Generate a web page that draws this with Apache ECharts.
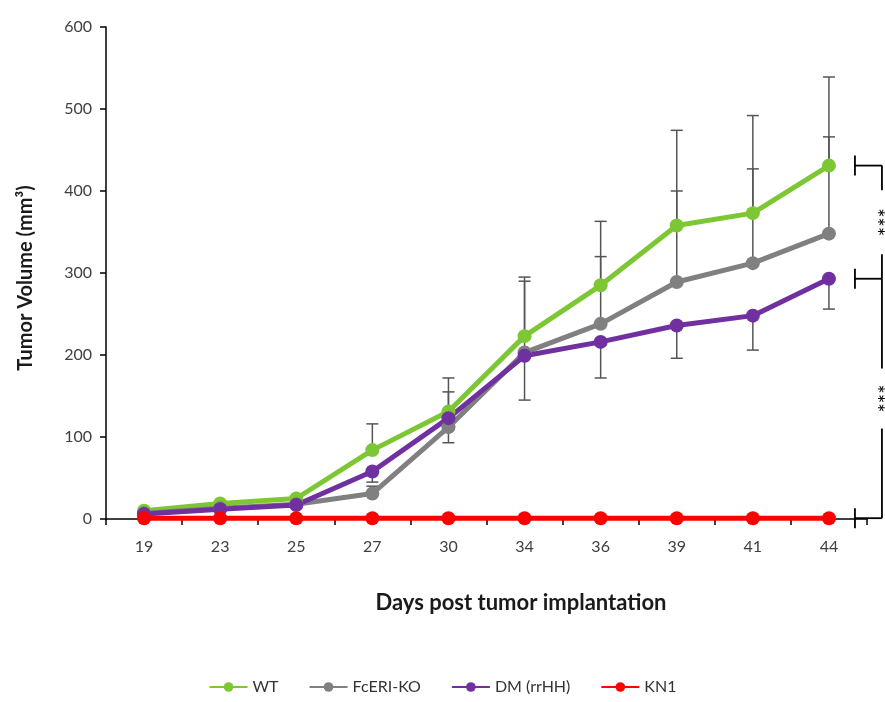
<!DOCTYPE html>
<html><head><meta charset="utf-8">
<script src="https://cdn.jsdelivr.net/npm/echarts@6/dist/echarts.min.js"></script>
<style>html,body{margin:0;padding:0;background:#fff}#c{width:885px;height:702px}</style>
</head><body><div id="c"></div>
<script>
const days = ['19','23','25','27','30','34','36','39','41','44'];
const wt  = [10,19,25,84,131,223,285,358,373,431];
const ko  = [7,13,18,31,112,203,238,289,312,348];
const dm  = [6,12,17,58,123,199,216,236,248,293];
const kn1 = [1,1,1,1,1,1,1,1,1,1];
const wtErrUp   = [0,0,0,32,41,72,78,116,119,108];
const koErrUp   = [0,0,0,9,43,87,82,111,115,118];
const dmErrDown = [0,0,0,13,30,54,44,40,42,37];
const seriesNames = ['WT','FcERI-KO','DM (rrHH)','KN1'];
const colors = ['#7dc734','#808080','#7030a0','#ff0000'];
const FONT = 'Lato';

function errData(vals, errs, dir){
  return vals.map((v,i)=>[i, v, v + dir*errs[i]]).filter((d,i)=>errs[i]>0);
}
function errSeries(data){
  return {
    type:'custom', z:1, silent:true,
    renderItem:function(params, api){
      const p0 = api.coord([api.value(0), api.value(1)]);
      const p1 = api.coord([api.value(0), api.value(2)]);
      const style = {stroke:'#555', lineWidth:1.5, fill:null};
      return {type:'group', children:[
        {type:'line', shape:{x1:p0[0],y1:p0[1],x2:p1[0],y2:p1[1]}, style:style},
        {type:'line', shape:{x1:p1[0]-6,y1:p1[1],x2:p1[0]+6,y2:p1[1]}, style:style}
      ]};
    },
    data:data
  };
}
function lineSeries(name, data, color){
  return {name:name, type:'line', data:data, z:3, symbol:'circle', symbolSize:14,
    lineStyle:{color:color, width:5}, itemStyle:{color:color}, animation:false};
}

const chart = echarts.init(document.getElementById('c'));
chart.setOption({
  animation:false,
  backgroundColor:'#fff',
  title:{text:'Days post tumor implantation', left:516, top:587, textAlign:'center',
    textStyle:{fontFamily:FONT, fontWeight:'bold', fontSize:22, color:'#1a1a1a'}},
  grid:{left:106, right:18, top:27, bottom:183, containLabel:false},
  legend:{bottom:2, left:'center', itemWidth:38, itemHeight:12, itemGap:30,
    data:seriesNames,
    textStyle:{fontFamily:FONT, fontSize:16, color:'#333'}},
  xAxis:{type:'category', data:days, boundaryGap:true,
    axisLine:{lineStyle:{color:'#000', width:1.5}},
    axisTick:{show:true, length:6, lineStyle:{color:'#000', width:1.5}},
    axisLabel:{fontFamily:FONT, fontSize:16, color:'#404040', margin:20}},
  yAxis:{type:'value', min:0, max:600, interval:100,
    name:'Tumor Volume (mm³)', nameLocation:'middle', nameGap:70, nameRotate:90,
    nameTextStyle:{fontFamily:FONT, fontWeight:'bold', fontSize:20, color:'#1a1a1a', padding:[0,0,0,-10]},
    splitLine:{show:false},
    axisLine:{show:true, lineStyle:{color:'#000', width:1.5}},
    axisTick:{show:true, length:6, lineStyle:{color:'#000', width:1.5}},
    axisLabel:{fontFamily:FONT, fontSize:16, color:'#404040', margin:14}},
  series:[
    errSeries(errData(wt, wtErrUp, 1)),
    errSeries(errData(ko, koErrUp, 1)),
    errSeries(errData(dm, dmErrDown, -1)),
    lineSeries(seriesNames[0], wt, colors[0]),
    lineSeries(seriesNames[1], ko, colors[1]),
    lineSeries(seriesNames[2], dm, colors[2]),
    lineSeries(seriesNames[3], kn1, colors[3])
  ]
});

// significance brackets at the last time point
const last = days.length-1;
const xc = chart.convertToPixel({xAxisIndex:0}, days[last]);
const xT = xc + 26, xL = xc + 53;
const yWT = chart.convertToPixel({yAxisIndex:0}, wt[last]);
const yDM = chart.convertToPixel({yAxisIndex:0}, dm[last]);
const yKN = chart.convertToPixel({yAxisIndex:0}, kn1[last]);
const ls = {stroke:'#000', lineWidth:1.8, fill:null};
const els = [];
function ln(x1,y1,x2,y2){ els.push({type:'line', shape:{x1,y1,x2,y2}, style:ls, z:10}); }
function bracketEnd(y){ ln(xT, y-10, xT, y+10); ln(xT, y, xL, y); }
function bracket(ya, yb, gap){
  const mid=(ya+yb)/2;
  ln(xL, ya, xL, mid-gap); ln(xL, mid+gap, xL, yb);
  els.push({type:'text', x:xL+5, y:mid, rotation:Math.PI/2, z:10,
    style:{text:'***', fontSize:22, fontFamily:FONT, fill:'#000', align:'center', verticalAlign:'middle'}});
}
bracketEnd(yWT); bracketEnd(yDM); bracketEnd(yKN);
bracket(yWT, yDM, 32);
bracket(yDM, yKN, 30);
chart.setOption({graphic:els});
</script>
</body></html>
